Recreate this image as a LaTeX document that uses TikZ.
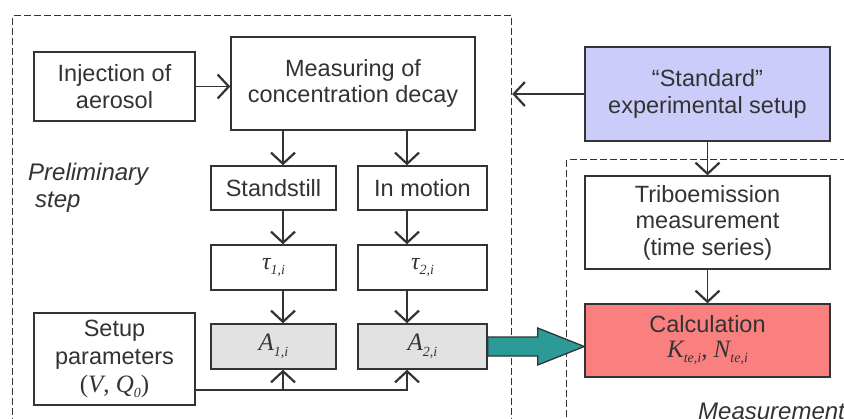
\documentclass[tikz,border=0pt]{standalone}
\usepackage{fontspec}
\setmainfont{Liberation Sans}
\newfontfamily\tms{Liberation Serif}
\usetikzlibrary{arrows.meta,calc}
\definecolor{edge}{HTML}{333333}
\definecolor{lav}{HTML}{CCCCFA}
\definecolor{salmon}{HTML}{FA8080}
\definecolor{greyfill}{HTML}{E2E2E2}
\definecolor{teal2}{HTML}{2C9A96}
\newcommand{\sbs}[1]{\raisebox{-0.22em}{\fontsize{14}{14}\selectfont #1}}
\tikzset{
  box/.style={draw=edge, line width=1.4pt, fill=white, inner sep=0pt, align=center,
    font=\fontsize{23.5}{26.5}\selectfont, text=edge},
  dashbox/.style={draw=edge, line width=1.2pt, dash pattern=on 7pt off 3pt},
  conn/.style={draw=edge, line width=1.3pt},
  arr/.style={conn, -{Straight Barb[length=7pt,width=15pt,line width=2.2pt,scale=1.6]}},
  bigarrow/.style={draw=edge, line width=1.3pt, fill=teal2, line join=miter},
  lbl/.style={font=\fontsize{24}{27}\selectfont\itshape, text=edge, inner sep=0pt, align=left},
}
\begin{document}
\begin{tikzpicture}[x=1pt,y=-1pt]
\useasboundingbox (0,0) rectangle (844,418);
\clip (0,0) rectangle (844,418);
\fill[white] (0,0) rectangle (844,418);
% dashed regions
\node[dashbox, minimum width=499pt, minimum height=430pt, anchor=north west] (prelim) at (12,15) {};
\node[dashbox, minimum width=300pt, minimum height=300pt, anchor=north west] (meas) at (566,159) {};
% boxes
\node[box, minimum width=161pt, minimum height=69pt] (inj) at (114.5,86.5) {Injection of\\aerosol};
\node[box, minimum width=244pt, minimum height=93pt] (mcd) at (353,83.5) {Measuring of\\concentration decay};
\node[box, fill=lav, minimum width=245pt, minimum height=94pt] (std) at (707.5,94) {“Standard”\\experimental setup};
\node[box, minimum width=125pt, minimum height=44pt] (stand) at (273.5,188) {Standstill};
\node[box, minimum width=129pt, minimum height=44pt] (motion) at (422.5,188) {In motion};
\node[box, minimum width=125pt, minimum height=45pt] (tau1) at (273.5,267.5) {\tms\itshape\fontsize{24}{26}\selectfont τ\sbs{1,i}};
\node[box, minimum width=129pt, minimum height=45pt] (tau2) at (422.5,267.5) {\tms\itshape\fontsize{24}{26}\selectfont τ\sbs{2,i}};
\node[box, fill=greyfill, minimum width=125pt, minimum height=45pt] (A1) at (273.5,346.5) {\tms\itshape\fontsize{25}{26}\selectfont A\sbs{1,i}};
\node[box, fill=greyfill, minimum width=129pt, minimum height=45pt] (A2) at (422.5,346.5) {\tms\itshape\fontsize{25}{26}\selectfont A\sbs{2,i}};
\node[box, minimum width=161pt, minimum height=92pt, font=\fontsize{23.5}{28}\selectfont] (setup) at (114.5,359) {Setup\\parameters\\{\tms\fontsize{25}{28}\selectfont(\textit{V}, \textit{Q}\sbs{\itshape 0})}};
\node[box, minimum width=245pt, minimum height=93pt] (tribo) at (707.5,222.5) {Triboemission\\measurement\\(time series)};
\node[box, fill=salmon, minimum width=245pt, minimum height=73pt] (calcn) at (707.5,340.5) {Calculation\\[-2pt]{\tms\itshape\fontsize{25}{26}\selectfont K\sbs{te,i}, N\sbs{te,i}}};
% labels
\node[lbl, anchor=base west] (plbl) at (28,207) {Preliminary\\\hspace{7pt}step};
\node[lbl, anchor=base west] (mlbl) at (698,419) {Measurement};
% connector x-positions
\coordinate (c1) at (283,0);
\coordinate (c2) at (407,0);
\coordinate (ly) at (0,390);
% connectors
\draw[arr] (inj.east) -- (inj.east -| mcd.west);
\draw[arr] (std.west) -- (std.west -| prelim.east);
\draw[arr] (std.south) -- (tribo.north);
\draw[arr] (tribo.south) -- (calcn.north);
\draw[arr] (mcd.south -| c1) -- (stand.north -| c1);
\draw[arr] (mcd.south -| c2) -- (motion.north -| c2);
\draw[arr] (stand.south -| c1) -- (tau1.north -| c1);
\draw[arr] (motion.south -| c2) -- (tau2.north -| c2);
\draw[arr] (tau1.south -| c1) -- (A1.north -| c1);
\draw[arr] (tau2.south -| c2) -- (A2.north -| c2);
\draw[arr] (setup.east |- ly) -| (A2.south -| c2);
\draw[arr] (c1 |- ly) -- (A1.south -| c1);
% big arrow
\draw[bigarrow] ($(A2.east)+(0,-9.5)$) -- ($(A2.east)+(50,-9.5)$) -- ($(A2.east)+(50,-18.5)$)
  -- (calcn.west |- A2.east) -- ($(A2.east)+(50,18.5)$) -- ($(A2.east)+(50,9.5)$) -- ($(A2.east)+(0,9.5)$) -- cycle;
\end{tikzpicture}
\end{document}
